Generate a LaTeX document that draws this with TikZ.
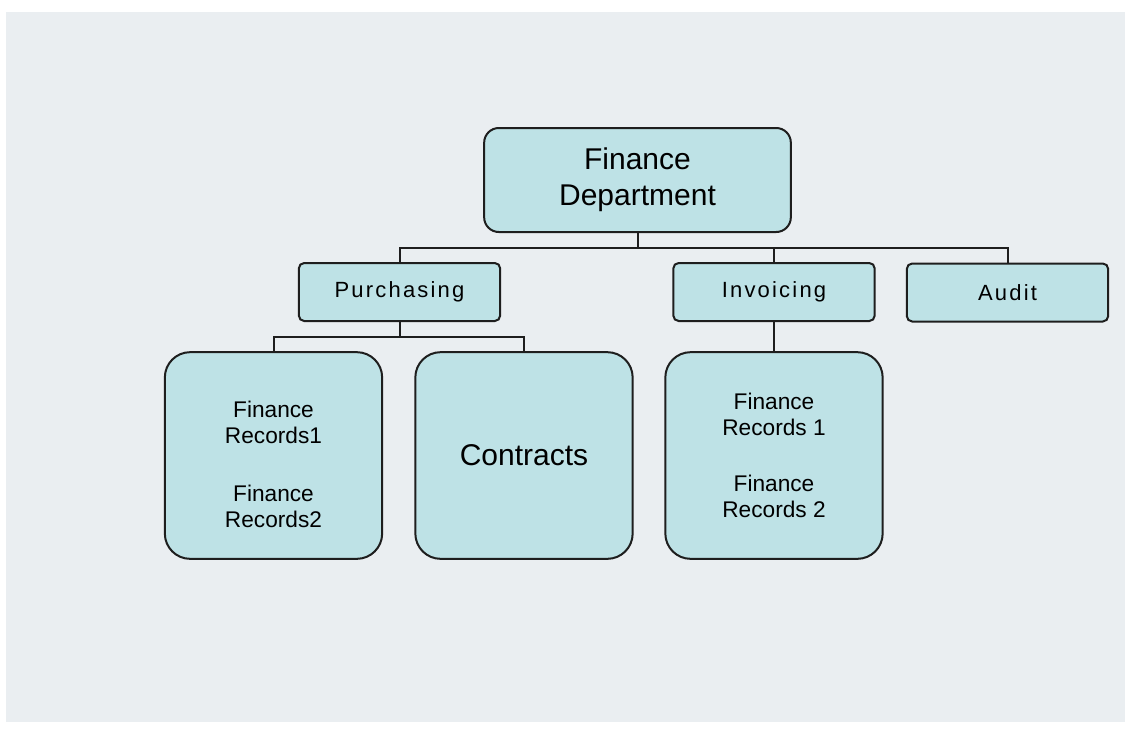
\documentclass[tikz,border=0pt]{standalone}
\usepackage{fontspec}
\setmainfont{Liberation Sans}
\newfontfamily\spacedfont[LetterSpace=10]{Liberation Sans}
\usetikzlibrary{positioning}

\definecolor{boxcyan}{RGB}{190,226,230}
\definecolor{bggray}{RGB}{234,238,241}
\definecolor{linegray}{RGB}{30,30,30}

\begin{document}
\begin{tikzpicture}[x=0.75pt, y=-0.75pt,
  unit/.style={draw=linegray, fill=boxcyan, line width=1.5pt, outer sep=0pt, align=center},
  headbox/.style={unit, rounded corners=11pt, minimum width=230pt, minimum height=78pt,
    font=\fontsize{22.5}{27}\selectfont},
  deptbox/.style={unit, rounded corners=4pt, minimum width=151pt, minimum height=43.5pt,
    font=\spacedfont\fontsize{16.5}{20}\selectfont},
  filebox/.style={unit, rounded corners=19pt, minimum width=163pt, minimum height=155pt,
    font=\fontsize{17}{19.5}\selectfont},
  link/.style={draw=linegray, line width=1.5pt}]
\useasboundingbox (0,0) rectangle (1125,729);
\fill[white] (0,0) rectangle (1125,729);
\fill[bggray] (6,12) rectangle (1125,722);

% top of the tree
\node (fin)[headbox] at (637.5,180) {Finance\\Department};

% departments
\node (purch)[deptbox] at (399.5,292) {Purchasing};
\node (inv)[deptbox] at (774,292) {Invoicing};
\node (audit)[deptbox] at (1007.5,292.5) {Audit};

% records held by each department
\node (rec)[filebox] at (273.5,455.5)
  {\raisebox{-9pt}[\height][\depth]{\begin{tabular}{@{}c@{}}Finance\\Records1\\[24pt]Finance\\Records2\end{tabular}}};
\node (con)[filebox, font=\fontsize{22.5}{27}\selectfont] at (524,455.5) {Contracts};
\node (irec)[filebox] at (774,455.5) {Finance\\Records 1\\[22pt]Finance\\Records 2};

% connectors
\coordinate (bus) at (637.5,248);
\coordinate (subbus) at (399.5,337);
\draw[link] (fin.south) -- (bus);
\draw[link] (purch.north) |- (audit.north |- bus) -- (audit.north);
\draw[link] (inv.north) -- (inv.north |- bus);
\draw[link] (purch.south) -- (subbus);
\draw[link] (rec.north) |- (con.north |- subbus) -- (con.north);
\draw[link] (inv.south) -- (irec.north);
\end{tikzpicture}
\end{document}
